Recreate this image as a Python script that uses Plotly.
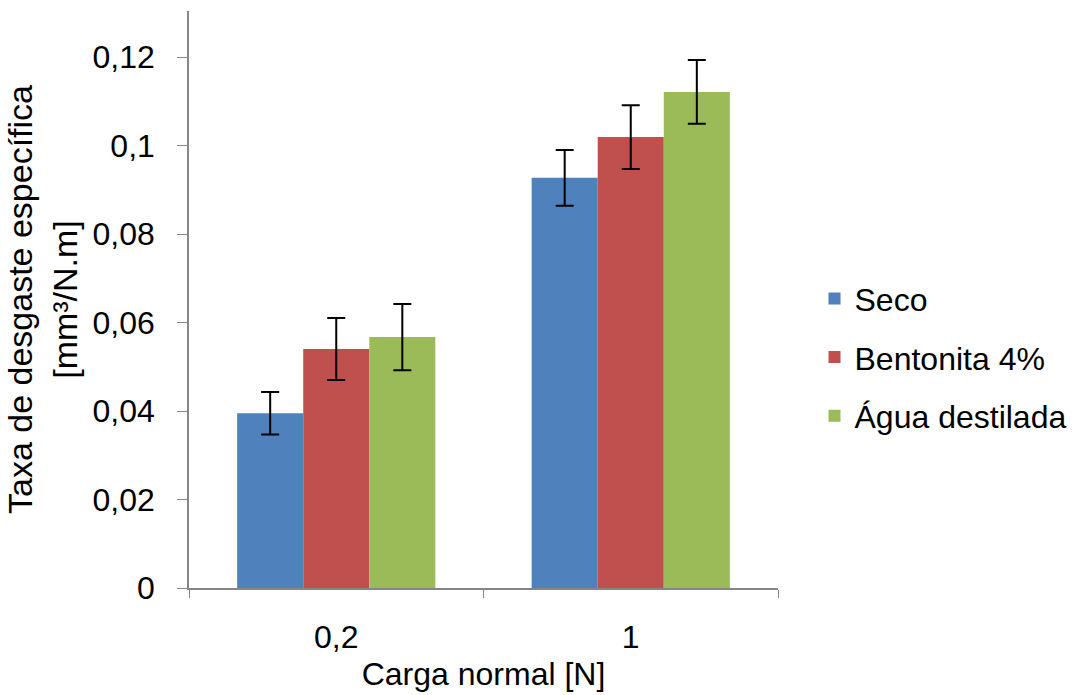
import plotly.graph_objects as go

categories = ["0,2", "1"]
series_names = ["Seco", "Bentonita 4%", "Água destilada"]
seco = [0.0395, 0.0927]
seco_err = [0.0048, 0.0063]
bentonita = [0.0540, 0.1019]
bentonita_err = [0.0070, 0.0072]
agua = [0.0567, 0.1121]
agua_err = [0.0075, 0.0072]
colors = ["#4F81BD", "#C0504D", "#9BBB59"]

values = [seco, bentonita, agua]
errors = [seco_err, bentonita_err, agua_err]

font_family = "Liberation Sans, Arial, sans-serif"
FS = 32

fig = go.Figure()
for i, (name, v, e, c) in enumerate(zip(series_names, values, errors, colors)):
    fig.add_trace(go.Bar(
        x=categories, y=v, name=name,
        marker=dict(color=c, line=dict(width=0)),
        error_y=dict(type="data", array=e, visible=True, color="black",
                     thickness=2, width=9),
        legendgroup=f"g{i}",
    ))

fig.update_layout(
    width=1082, height=695,
    barmode="group", bargap=0.327, bargroupgap=0,
    separators=", ",
    paper_bgcolor="white", plot_bgcolor="white",
    margin=dict(l=189, r=304, t=11, b=107, autoexpand=False),
    font=dict(family=font_family, size=FS, color="black"),
    legend=dict(x=1.062, y=0.40, xanchor="left", yanchor="middle",
                font=dict(size=FS), tracegroupgap=14, traceorder="grouped",
                itemwidth=30),
    xaxis=dict(
        type="category", showline=True, linecolor="#868686", linewidth=1.5,
        ticks="outside", tickson="boundaries", ticklen=8, tickcolor="#868686",
        tickfont=dict(size=FS), ticklabelstandoff=20,
        title=dict(text="Carga normal [N]", font=dict(size=FS), standoff=8),
        showgrid=False, zeroline=False, automargin=False,
    ),
    yaxis=dict(
        range=[0, 0.1304], dtick=0.02, tick0=0,
        showline=True, linecolor="#868686", linewidth=1.5,
        ticks="outside", ticklen=10, tickcolor="#868686",
        tickfont=dict(size=FS), ticklabelstandoff=16,
        title=dict(text="Taxa de desgaste específica<br>[mm³/N.m]", font=dict(size=34), standoff=5),
        showgrid=False, zeroline=False, automargin=False,
    ),
)

fig.write_html("out.html", post_script="document.body.style.margin='0px';",
               config={"displayModeBar": False})
